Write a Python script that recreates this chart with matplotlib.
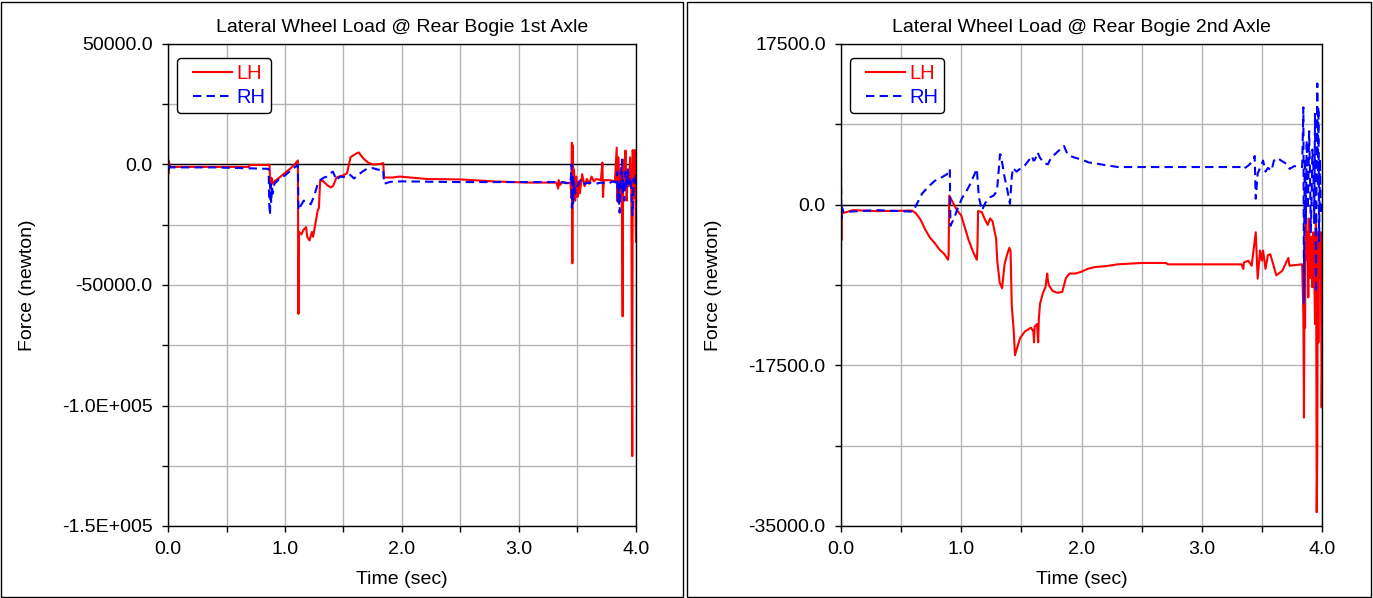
import matplotlib
matplotlib.use("Agg")
import matplotlib.pyplot as plt
from matplotlib.patches import Rectangle
from matplotlib.lines import Line2D
from matplotlib.legend_handler import HandlerLine2D
from matplotlib.ticker import MultipleLocator, FixedLocator, FixedFormatter

plt.rcParams['font.family'] = ['Liberation Sans', 'DejaVu Sans']

# ---- Rear bogie 1st axle (time in sec, force in newton) ----
t1_lh = [0.0, 0.003, 0.006, 0.02, 0.30, 0.69, 0.70, 0.868, 0.874, 0.885, 0.895, 0.91,
         0.95, 1.00, 1.05, 1.09, 1.11, 1.115, 1.12, 1.14, 1.16, 1.18, 1.19, 1.21, 1.23,
         1.24, 1.28, 1.29, 1.30, 1.32, 1.36, 1.39, 1.41, 1.44, 1.49, 1.53, 1.56, 1.61,
         1.63, 1.67, 1.71, 1.75, 1.81, 1.84, 1.846, 1.92, 1.98, 2.07, 2.21, 2.50, 2.78,
         3.07, 3.32, 3.335, 3.34, 3.35, 3.37, 3.40, 3.44, 3.448, 3.452, 3.456, 3.46,
         3.465, 3.47, 3.48, 3.49, 3.50, 3.51, 3.52, 3.54, 3.56, 3.58, 3.60, 3.62, 3.64,
         3.66, 3.70, 3.713, 3.718, 3.725, 3.78, 3.82, 3.835, 3.84, 3.85, 3.86, 3.87,
         3.88, 3.886, 3.89, 3.90, 3.91, 3.92, 3.93, 3.94, 3.95, 3.96, 3.968, 3.972,
         3.98, 3.99, 4.00]
f1_lh = [-1500, -4000, 1500, -1000, -1000, -1000, -200, -200, -10000, -5500, -8000, -7000,
         -5500, -3500, -1500, 500, 1700, -62000, -28000, -29000, -27000, -26000, -30000, -31500, -28000,
         -30000, -19000, -18000, -7000, -6600, -8500, -9500, -9000, -5400, -4600, -3700, 3000, 4600,
         5000, 2500, 800, 0, 200, 600, -5400, -5400, -5000, -5400, -6000, -6200, -7000,
         -7500, -7500, -10000, -6500, -8500, -7200, -7800, -7500, -14000, 9000, -41000, 8000,
         -12000, -2000, -15000, -5000, -13500, -7000, -12000, -4000, -9000, -6000, -8000, -5000, -7000,
         -6000, -6500, 800, -13500, -6500, -6500, -7000, 7000, -15000, 3000, -12000, -3000,
         -20000, -63000, 2000, -8000, 5800, -15000, -4000, -9000, 3000, -10000, -121000, 6000,
         -14000, 6000, -32000]

t1_rh = [0.0, 0.003, 0.008, 0.015, 0.40, 0.86, 0.866, 0.872, 0.876, 0.882, 0.888, 0.895,
         0.91, 0.95, 1.00, 1.05, 1.10, 1.11, 1.115, 1.13, 1.16, 1.19, 1.22, 1.25, 1.28,
         1.30, 1.33, 1.36, 1.39, 1.41, 1.44, 1.47, 1.50, 1.55, 1.59, 1.62, 1.66, 1.70,
         1.75, 1.80, 1.84, 1.846, 1.90, 2.00, 2.50, 3.00, 3.30, 3.40, 3.44, 3.45, 3.452,
         3.458, 3.463, 3.47, 3.48, 3.50, 3.53, 3.56, 3.60, 3.66, 3.70, 3.76, 3.80, 3.83,
         3.84, 3.845, 3.85, 3.86, 3.87, 3.88, 3.885, 3.89, 3.90, 3.91, 3.92, 3.93, 3.94,
         3.95, 3.96, 3.97, 3.98, 3.99, 4.00]
f1_rh = [4000, -2500, 1000, -1200, -1200, -1800, -17000, -21000, -8000, -16000, -9000, -12000,
         -8000, -6000, -4500, -2500, -500, -200, -19000, -17500, -15000, -15500, -16500, -13000, -8000,
         -6500, -5500, -5000, -3500, -3000, -6500, -5000, -5200, -4000, -5800, -4500, -3000, -1800,
         -1500, -2200, -2000, -8000, -7200, -7000, -7300, -7300, -7300, -7500, -8000, 0, -18000,
         -4000, -16000, -7000, -12000, -9000, -6000, -8000, -7500, -8000, -7500, -8000, -7000, -7500,
         -3000, -16000, -8000, -20000, -4000, 2000, -12000, -6000, -15000, -3000, -10000, -2000, -8000,
         -5000, -11000, -21000, -6000, -9000, -4000]

# ---- Rear bogie 2nd axle ----
t2_lh = [0.0, 0.003, 0.007, 0.02, 0.10, 0.30, 0.59, 0.62, 0.66, 0.70, 0.74, 0.78, 0.82,
         0.86, 0.89, 0.895, 0.90, 0.92, 0.96, 1.00, 1.03, 1.06, 1.10, 1.13, 1.135, 1.14,
         1.17, 1.20, 1.22, 1.24, 1.26, 1.29, 1.295, 1.30, 1.32, 1.34, 1.36, 1.38, 1.40,
         1.41, 1.42, 1.435, 1.447, 1.46, 1.49, 1.53, 1.58, 1.60, 1.605, 1.61, 1.63, 1.64,
         1.645, 1.655, 1.68, 1.70, 1.715, 1.72, 1.73, 1.76, 1.80, 1.84, 1.87, 1.90, 1.95,
         2.00, 2.05, 2.11, 2.20, 2.30, 2.50, 2.70, 2.72, 3.00, 3.33, 3.346, 3.35, 3.387,
         3.415, 3.449, 3.465, 3.485, 3.50, 3.51, 3.53, 3.55, 3.57, 3.59, 3.62, 3.67, 3.72,
         3.73, 3.83, 3.835, 3.845, 3.85, 3.855, 3.859, 3.865, 3.873, 3.88, 3.886, 3.89,
         3.90, 3.905, 3.914, 3.92, 3.928, 3.935, 3.942, 3.95, 3.956, 3.961, 3.965, 3.97,
         3.975, 3.983, 3.99, 3.997, 4.00]
f2_lh = [-800, -3900, -500, -900, -600, -700, -650, -900, -1600, -2700, -3600, -4200, -4900,
         -5400, -6000, -5500, 1000, 500, -500, -1200, -2500, -3800, -5200, -6000, -4500, -700,
         -800, -1700, -2200, -1500, -1800, -3700, -5000, -6200, -8500, -9100, -6500, -5500, -4700,
         -5000, -11000, -13500, -16400, -15800, -14500, -13800, -13400, -13800, -15000, -13300, -13000, -15000,
         -12500, -10800, -9600, -9000, -7500, -8200, -8800, -9400, -9600, -9500, -8000, -7500, -7500,
         -7300, -7000, -6800, -6700, -6500, -6350, -6350, -6500, -6500, -6500, -7000, -6300, -6100,
         -6650, -3000, -8060, -5000, -6100, -5000, -7000, -5500, -5400, -6300, -7700, -7200, -5800,
         -6650, -6500, -6500, -12000, -23200, -5000, -13400, 400, -6000, -3000, -10100, -1500,
         -5000, -8000, -3500, -9000, -3000, -6500, -13000, -1000, -33500, -26800, -3000, -15000,
         -3000, -8000, -3000, -22100, -18000]

t2_rh = [0.0, 0.003, 0.008, 0.02, 0.30, 0.59, 0.615, 0.674, 0.73, 0.78, 0.84, 0.88, 0.905,
         0.91, 0.94, 0.97, 1.006, 1.04, 1.073, 1.10, 1.13, 1.135, 1.148, 1.173, 1.20, 1.239,
         1.27, 1.297, 1.31, 1.322, 1.33, 1.36, 1.38, 1.405, 1.42, 1.43, 1.46, 1.489, 1.53,
         1.56, 1.588, 1.60, 1.613, 1.635, 1.655, 1.69, 1.721, 1.75, 1.78, 1.82, 1.854, 1.88,
         1.904, 1.95, 2.004, 2.06, 2.112, 2.20, 2.304, 2.50, 3.00, 3.335, 3.346, 3.387, 3.428,
         3.44, 3.449, 3.465, 3.485, 3.51, 3.53, 3.55, 3.58, 3.60, 3.63, 3.66, 3.71, 3.73,
         3.77, 3.83, 3.835, 3.845, 3.85, 3.855, 3.859, 3.865, 3.873, 3.88, 3.886, 3.893,
         3.90, 3.907, 3.914, 3.92, 3.928, 3.935, 3.942, 3.95, 3.955, 3.961, 3.966, 3.97,
         3.976, 3.983, 3.99, 3.997, 4.00]
f2_rh = [3500, -1500, -300, -800, -600, -760, -330, 1200, 2000, 2600, 3000, 3300, 3900,
         -2300, -1500, -400, 700, 1400, 2200, 3000, 3900, 2800, 700, -600, 200, 800,
         1000, 1500, 3500, 5500, 5400, 3000, 1800, 100, 3000, 4000, 3600, 3900, 4300,
         4800, 5300, 4800, 4900, 5700, 5100, 4500, 4400, 5200, 5500, 6000, 6400, 5600,
         5300, 5100, 4900, 4600, 4500, 4300, 4100, 4100, 4100, 4100, 3900, 4250, 4800,
         5300, 650, 3400, 4000, 4800, 3600, 4000, 3700, 4800, 5100, 4800, 4400, 3900,
         4200, 4100, 4100, 10600, -10800, 3000, 5100, -2000, 7000, -500, 2000, 8000,
         3500, -3000, 1000, 6000, 4200, -2000, 9900, -9600, 4000, 13200, 2000, 10600,
         -4000, 5000, -1000, -1000, 0]

titles = ["Lateral Wheel Load @ Rear Bogie 1st Axle",
          "Lateral Wheel Load @ Rear Bogie 2nd Axle"]
ylims = [(-150000, 50000), (-35000, 17500)]
yticks = [[-150000, -100000, -50000, 0, 50000], [-35000, -17500, 0, 17500]]
ylabels = [["-1.5E+005", "-1.0E+005", "-50000.0", "0.0", "50000.0"],
           ["-35000.0", "-17500.0", "0.0", "17500.0"]]
yminor = [25000, 8750]

W, H = 1373, 598
fig = plt.figure(figsize=(W / 100, H / 100), dpi=100)
fig.patch.set_facecolor('white')

# panel frames
for x0, x1 in [(1, 683), (687, 1371)]:
    fig.add_artist(Rectangle((x0 / W, 1.5 / H), (x1 - x0) / W, (H - 3) / H,
                             transform=fig.transFigure, fill=False,
                             edgecolor='black', lw=1))

axes = [fig.add_axes([168 / W, 72 / H, 468 / W, 482 / H]),
        fig.add_axes([841 / W, 72 / H, 481 / W, 482 / H])]
data = [(t1_lh, f1_lh, t1_rh, f1_rh), (t2_lh, f2_lh, t2_rh, f2_rh)]
fs = 14

for i, ax in enumerate(axes):
    tl, fl, tr, fr = data[i]
    ax.plot(tl, fl, color='red', lw=1.5, label='LH')
    ax.plot(tr, fr, color='blue', lw=1.5, dashes=(4, 2.5), label='RH')
    ax.axhline(0, color='black', lw=1, zorder=1.5)
    ax.set_xlim(0, 4)
    ax.set_ylim(*ylims[i])
    ax.xaxis.set_major_locator(MultipleLocator(1.0))
    ax.xaxis.set_minor_locator(MultipleLocator(0.5))
    ax.xaxis.set_major_formatter(plt.FormatStrFormatter('%.1f'))
    ax.yaxis.set_major_locator(FixedLocator(yticks[i]))
    ax.yaxis.set_major_formatter(FixedFormatter(ylabels[i]))
    ax.yaxis.set_minor_locator(MultipleLocator(yminor[i]))
    ax.grid(True, which='both', color='#b4b4b4', lw=1)
    ax.set_axisbelow(True)
    ax.tick_params(which='both', direction='out', length=4, width=1,
                   labelsize=fs, pad=7, colors='black')
    for s in ax.spines.values():
        s.set_linewidth(1)
        s.set_color('black')
    ax.set_title(titles[i], fontsize=fs, pad=9)
    ax.set_xlabel("Time (sec)", fontsize=fs, labelpad=9)
    ax.set_ylabel("Force (newton)", fontsize=fs, labelpad=19)
    aw = ax.get_position().width * W
    leg = ax.legend(loc='upper left', bbox_to_anchor=(8.5 / aw, 1 - 14 / 482),
                    borderaxespad=0, fontsize=14.5, labelcolor='linecolor',
                    fancybox=True, framealpha=1, edgecolor='black',
                    borderpad=0.3, labelspacing=0.25, handlelength=2.45,
                    handletextpad=0.2,
                    handler_map={Line2D: HandlerLine2D(xpad=0.5)})
    leg.get_frame().set_linewidth(1)

fig.savefig("out.png", dpi=100)
